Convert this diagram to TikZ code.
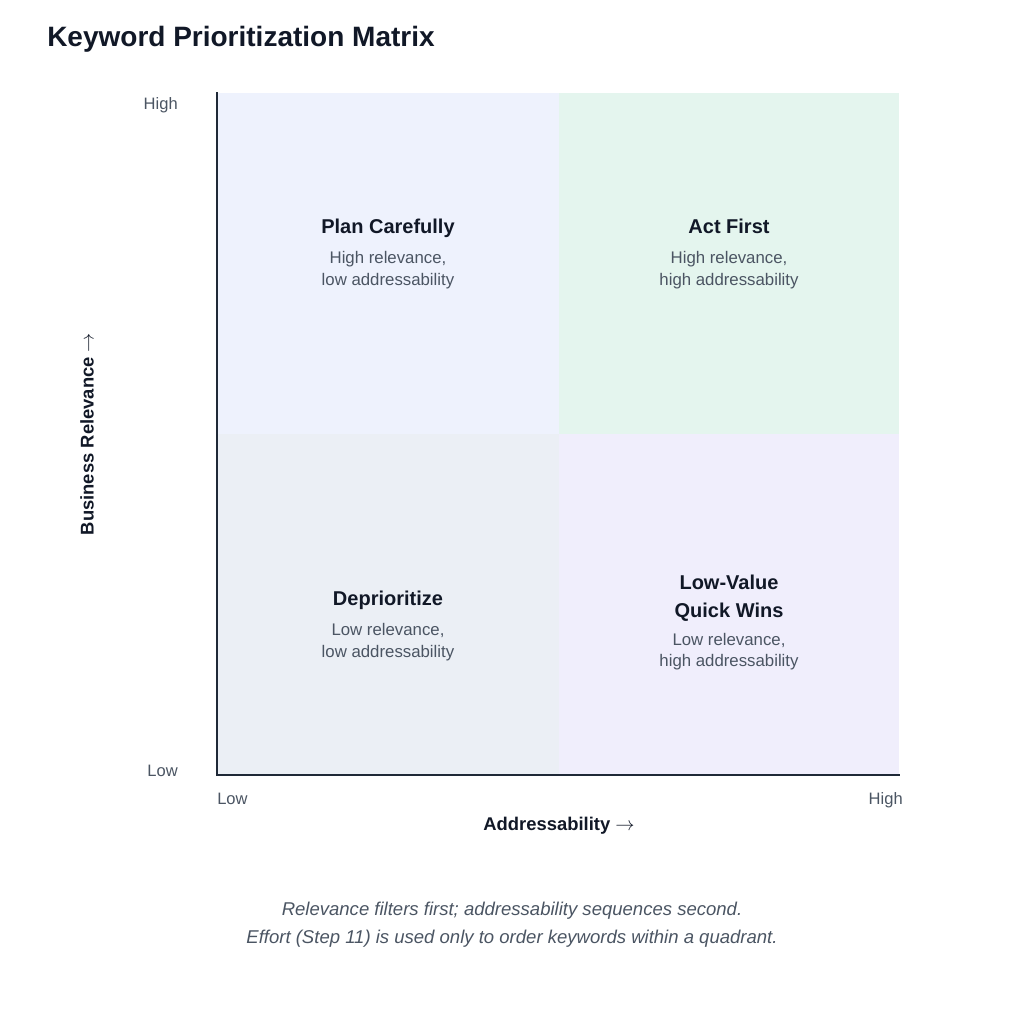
\documentclass[tikz,border=0pt]{standalone}
\usepackage{fontspec}
\setmainfont{Liberation Sans}
\definecolor{ink}{HTML}{111827}
\definecolor{sub}{HTML}{4B5563}
\definecolor{tick}{HTML}{4B5563}
\definecolor{axis}{HTML}{1F2937}
\definecolor{qtl}{HTML}{EEF2FD}
\definecolor{qtr}{HTML}{E4F5EE}
\definecolor{qbl}{HTML}{EBEFF5}
\definecolor{qbr}{HTML}{F0EEFC}
\newcommand{\thinarrow}{$\rightarrow$}
\tikzset{
  qtitle/.style={anchor=base, inner sep=0pt, text=ink, font=\fontsize{15}{18}\selectfont\bfseries},
  qsub/.style={anchor=base, inner sep=0pt, text=sub, font=\fontsize{12.6}{15}\selectfont},
  ticklab/.style={inner sep=0pt, text=tick, font=\fontsize{12.4}{15}\selectfont},
  axlab/.style={anchor=base, inner sep=0pt, text=ink, font=\fontsize{13.8}{16}\selectfont\bfseries},
  caption/.style={anchor=base, inner sep=0pt, text=sub, font=\fontsize{13.9}{16}\selectfont\itshape},
  axisline/.style={draw=axis, line width=1.9pt, line cap=rect},
}
\begin{document}
\begin{tikzpicture}[x=0.75pt, y=-0.75pt]
\fill[white] (0,0) rectangle (1024,1024);
\useasboundingbox (0,0) rectangle (1024,1024);
% quadrants
\fill[qtl] (217,93) rectangle (559,434);
\fill[qtr] (559,93) rectangle (899,434);
\fill[qbl] (217,434) rectangle (559,775);
\fill[qbr] (559,434) rectangle (899,775);
% axes
\coordinate (top) at (217,93);
\coordinate (origin) at (217,775);
\coordinate (right) at (899,775);
\draw[axisline] (top) -- (origin) -- (right);
% title
\node[anchor=base west, inner sep=0pt, text=ink, font=\fontsize{21}{25}\selectfont\bfseries] (title) at (47,46.7) {Keyword Prioritization Matrix};
% top-left
\node[qtitle] (tlT) at (388,233) {Plan Carefully};
\node[qsub] (tlA) at (388,263) {High relevance,};
\node[qsub] (tlB) at (388,285) {low addressability};
% top-right
\node[qtitle] (trT) at (729,233) {Act First};
\node[qsub] (trA) at (729,263) {High relevance,};
\node[qsub] (trB) at (729,285) {high addressability};
% bottom-left
\node[qtitle] (blT) at (388,605) {Deprioritize};
\node[qsub] (blA) at (388,635) {Low relevance,};
\node[qsub] (blB) at (388,657) {low addressability};
% bottom-right
\node[qtitle] (brT) at (729,589.5) {Low-Value};
\node[qtitle] (brT2) at (729,617) {Quick Wins};
\node[qsub] (brA) at (729,645) {Low relevance,};
\node[qsub] (brB) at (729,666.5) {high addressability};
% ticks
\node[ticklab, anchor=base east] (yhigh) at (178,109) {High};
\node[ticklab, anchor=base east] (ylow) at (178,776) {Low};
\node[ticklab, anchor=base west] (xlow) at (217,804) {Low};
\node[ticklab, anchor=base east] (xhigh) at (903,804) {High};
% axis labels
\node[axlab] (xlab) at (559,830.5) {Addressability \thinarrow};
\node[axlab, rotate=90] (ylab) at (93.5,434) {Business Relevance \thinarrow};
% caption
\node[caption] (cap1) at (512,915) {Relevance filters first; addressability sequences second.};
\node[caption] (cap2) at (512,943) {Effort (Step 11) is used only to order keywords within a quadrant.};
\end{tikzpicture}
\end{document}
